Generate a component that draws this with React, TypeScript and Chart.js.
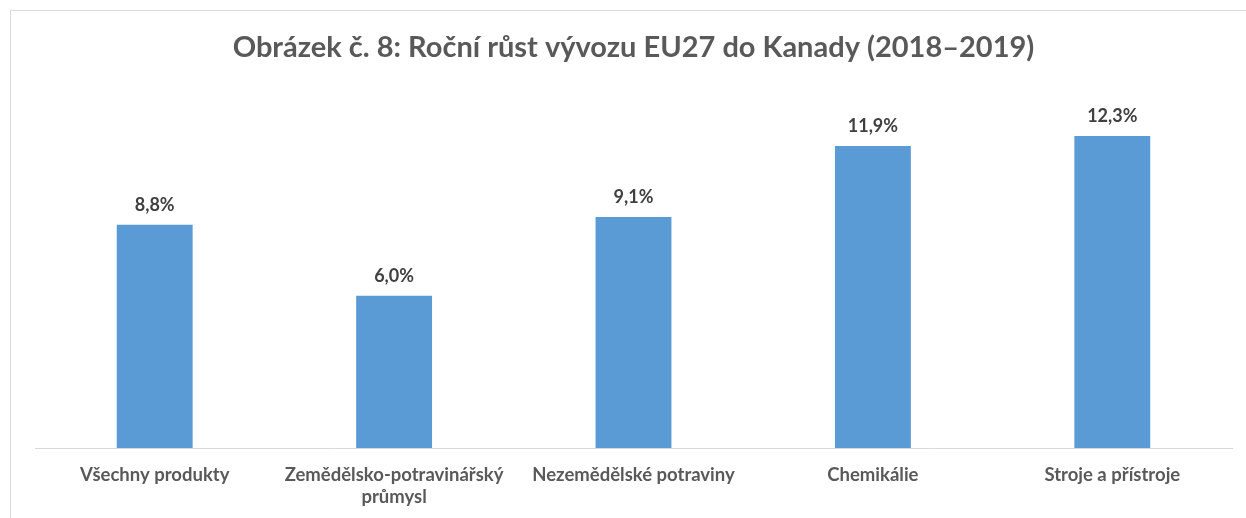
import React, { useEffect, useRef } from "react";
import { Chart, registerables } from "chart.js";

Chart.register(...registerables);

const TITLE = "Obrázek č. 8: Roční růst vývozu EU27 do Kanady (2018–2019)";
const categories: (string | string[])[] = [
  "Všechny produkty",
  ["Zemědělsko-potravinářský", "průmysl"],
  "Nezemědělské potraviny",
  "Chemikálie",
  "Stroje a přístroje",
];
const growth = [8.8, 6.0, 9.1, 11.9, 12.3];
const Y_MIN = 0;
const Y_MAX = 14;

const FONT = "Lato, 'Open Sans', sans-serif";

const labelPlugin = {
  id: "barLabels",
  afterDatasetsDraw(chart: any) {
    const ctx = chart.ctx;
    const meta = chart.getDatasetMeta(0);
    const data = chart.data.datasets[0].data as number[];
    ctx.save();
    ctx.font = `bold 18px ${FONT}`;
    ctx.fillStyle = "#404040";
    ctx.textAlign = "center";
    ctx.textBaseline = "middle";
    meta.data.forEach((el: any, i: number) => {
      const txt = data[i].toFixed(1).replace(".", ",") + "%";
      ctx.fillText(txt, el.x, el.y - 20);
    });
    ctx.restore();
  },
};

export default function App() {
  const ref = useRef<HTMLCanvasElement | null>(null);
  useEffect(() => {
    document.body.style.margin = "0";
    if (!ref.current) return;
    const chart = new Chart(ref.current, {
      type: "bar",
      data: {
        labels: categories,
        datasets: [
          {
            data: growth,
            backgroundColor: "#5B9BD5",
            borderWidth: 0,
            categoryPercentage: 1,
            barPercentage: 0.317,
          },
        ],
      },
      options: {
        animation: false,
        responsive: false,
        maintainAspectRatio: false,
        layout: { padding: { left: 35, right: 14, top: 0, bottom: 0 } },
        plugins: {
          legend: { display: false },
          tooltip: { enabled: false },
          title: {
            display: true,
            text: TITLE,
            color: "#595959",
            font: { family: FONT, size: 29, weight: "bold", lineHeight: 1.2 },
            padding: { top: 30, bottom: 28 },
          },
        },
        scales: {
          x: {
            grid: { display: false, drawTicks: false },
            border: { display: true, color: "#d9d9d9", width: 1 },
            afterFit(scale: any) {
              scale.height = 70;
            },
            ticks: {
              color: "#595959",
              font: { family: FONT, size: 18.5, weight: "bold", lineHeight: 1.2 },
              padding: 16,
              maxRotation: 0,
              autoSkip: false,
            },
          },
          y: {
            display: false,
            min: Y_MIN,
            max: Y_MAX,
          },
        },
      },
      plugins: [labelPlugin],
    });
    return () => chart.destroy();
  }, []);

  return (
    <div style={{ position: "relative", width: 1246, height: 518, overflow: "hidden", background: "#fff" }}>
      <div
        style={{
          position: "absolute",
          left: 10,
          top: 10,
          width: 1300,
          height: 600,
          border: "1px solid #d9d9d9",
          boxSizing: "border-box",
        }}
      />
      <canvas ref={ref} width={1246} height={518} style={{ position: "absolute", left: 0, top: 0, display: "block" }} />
    </div>
  );
}
